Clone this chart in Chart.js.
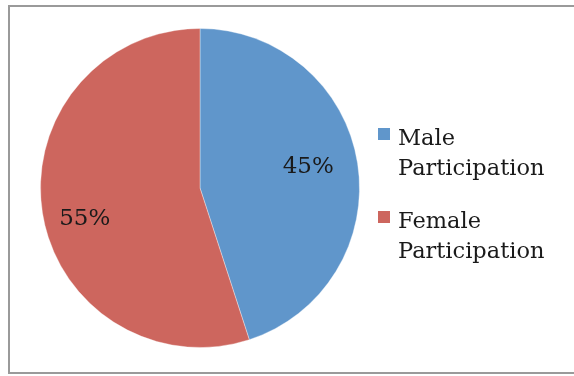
<!DOCTYPE html>
<html>
<head>
<meta charset="utf-8">
<script src="https://cdn.jsdelivr.net/npm/chart.js@4/dist/chart.umd.min.js"></script>
<style>
  html, body { margin: 0; padding: 0; background: #ffffff; }
  canvas { display: block; }
</style>
</head>
<body>
<canvas id="pie" width="574" height="376"></canvas>
<script>
// Participation split by gender (percent)
const categories = [['Male', 'Participation'], ['Female', 'Participation']];
const shares = [45, 55];
const sliceColors = ['#6096cb', '#cd665e'];

const FONT = '"DejaVu Serif", "Liberation Serif", serif';

// Grey outer frame around the whole chart
const framePlugin = {
  id: 'frame',
  beforeDraw(chart) {
    const ctx = chart.ctx;
    ctx.save();
    ctx.fillStyle = '#ffffff';
    ctx.fillRect(0, 0, chart.width, chart.height);
    ctx.strokeStyle = '#9a9a9a';
    ctx.lineWidth = 2;
    ctx.strokeRect(9, 6, 700, 367);
    ctx.restore();
  }
};

// Percentage labels placed inside each slice along its mid-angle,
// nudged slightly per slice for a best-fit look
const labelNudge = [[-2, -4], [-5, 14]];
const sliceLabelPlugin = {
  id: 'sliceLabels',
  afterDatasetsDraw(chart) {
    const ctx = chart.ctx;
    const meta = chart.getDatasetMeta(0);
    ctx.save();
    ctx.font = '23px ' + FONT;
    ctx.fillStyle = '#1a1a1a';
    ctx.textAlign = 'center';
    ctx.textBaseline = 'middle';
    meta.data.forEach((arc, i) => {
      const p = arc.getProps(['x', 'y', 'startAngle', 'endAngle', 'outerRadius'], true);
      const mid = (p.startAngle + p.endAngle) / 2;
      const r = p.outerRadius * 0.7;
      ctx.fillText(shares[i] + '%',
        p.x + Math.cos(mid) * r + labelNudge[i][0],
        p.y + Math.sin(mid) * r + labelNudge[i][1]);
    });
    ctx.restore();
  }
};

// Legend on the right with two-line entries
const sideLegendPlugin = {
  id: 'sideLegend',
  afterDraw(chart) {
    const ctx = chart.ctx;
    const area = chart.chartArea;
    const left = area.right + 18;
    const lineGap = 30;
    const entryGap = 83;
    const firstBaseline = 145;
    ctx.save();
    ctx.font = '22.5px ' + FONT;
    ctx.textAlign = 'left';
    ctx.textBaseline = 'alphabetic';
    categories.forEach((lines, i) => {
      const base = firstBaseline + i * entryGap;
      ctx.fillStyle = sliceColors[i];
      ctx.fillRect(left, base - 17, 12, 12);
      ctx.fillStyle = '#1a1a1a';
      lines.forEach((t, j) => {
        ctx.fillText(t, left + 20, base + j * lineGap);
      });
    });
    ctx.restore();
  }
};

new Chart(document.getElementById('pie'), {
  type: 'pie',
  data: {
    labels: categories.map(l => l.join(' ')),
    datasets: [{
      data: shares,
      backgroundColor: sliceColors,
      borderColor: 'rgba(255,255,255,0.35)',
      borderWidth: 1
    }]
  },
  options: {
    responsive: false,
    animation: false,
    layout: { padding: { left: 40, top: 28, right: 214, bottom: 28 } },
    plugins: {
      legend: { display: false },
      tooltip: { enabled: false }
    }
  },
  plugins: [framePlugin, sliceLabelPlugin, sideLegendPlugin]
});
</script>
</body>
</html>
